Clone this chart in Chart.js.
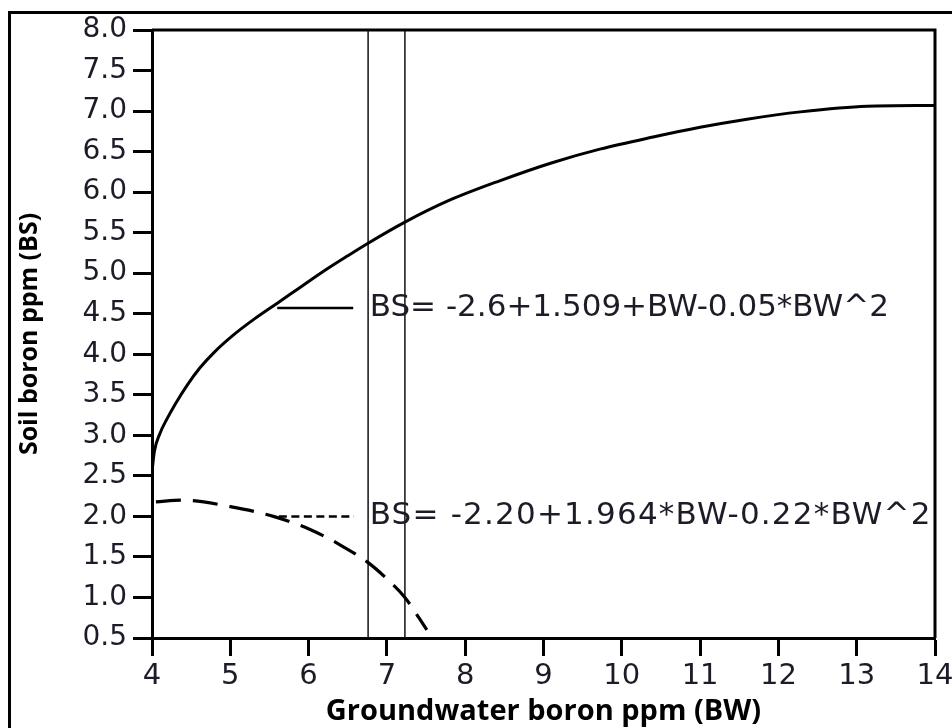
<!DOCTYPE html>
<html>
<head>
<meta charset="utf-8">
<script src="https://cdn.jsdelivr.net/npm/chart.js@4.4.1/dist/chart.umd.min.js"></script>
<style>
  html, body { margin: 0; padding: 0; background: #fff; overflow: hidden; }
  #frame {
    position: absolute; left: 8px; top: 11px; width: 1000px; height: 800px;
    border: 3px solid #000; box-sizing: border-box;
  }
  #wrap { position: absolute; left: 0; top: 0; width: 952px; height: 728px; }
</style>
</head>
<body>
<div id="frame"></div>
<div id="wrap"><canvas id="boronChart"></canvas></div>
<script>
// values
const solidX = [4.0, 4.03, 4.1, 4.19, 4.3, 4.45, 4.61, 4.8, 5.03, 5.3, 5.6, 5.9, 6.2, 6.5, 6.76, 7.23, 7.8, 8.44, 9.1, 9.72, 10.4, 11.0, 11.6, 12.28, 13.13, 14.0];
const solidY = [2.55, 2.8, 3.02, 3.2, 3.39, 3.62, 3.83, 4.03, 4.23, 4.43, 4.63, 4.83, 5.03, 5.215, 5.37, 5.63, 5.9, 6.14, 6.36, 6.53, 6.68, 6.80, 6.90, 6.99, 7.06, 7.07];

const dashedX = [4.05, 4.4, 5.0, 5.55, 6.04, 6.4, 6.76, 7.0, 7.23, 7.51];
const dashedY = [2.18, 2.2, 2.12, 2.0, 1.83, 1.65, 1.43, 1.23, 1.0, 0.6];

const markerX = [6.76, 7.23];

const solidKeyX = [5.6, 6.57];
const dashedKeyX = [5.62, 6.58];
const equations = ["BS= -2.6+1.509+BW-0.05*BW^2", "BS= -2.20+1.964*BW-0.22*BW^2"];
const equationY = [4.57, 2.0];
const equationX = 6.78;

const xTitle = "Groundwater boron ppm (BW)";
const yTitle = "Soil boron ppm (BS)";

function toPoints(xs, ys) {
  return xs.map((x, i) => ({ x: x, y: ys[i] }));
}

const textColor = "#1c1c28";

// top and right edges of the plot box + the equation texts
const boxAndText = {
  id: "boxAndText",
  afterDatasetsDraw(chart) {
    const ctx = chart.ctx;
    const a = chart.chartArea;
    const xs = chart.scales.x;
    const ys = chart.scales.y;
    ctx.save();
    ctx.strokeStyle = "#000";
    ctx.lineWidth = 3;
    ctx.beginPath();
    ctx.moveTo(a.left, a.top);
    ctx.lineTo(a.right, a.top);
    ctx.lineTo(a.right, a.bottom);
    ctx.stroke();

    ctx.fillStyle = textColor;
    ctx.font = "31px 'DejaVu Sans'";
    ctx.textAlign = "left";
    ctx.textBaseline = "middle";
    equations.forEach((t, i) => {
      // the second equation is set a little wider in the original
      ctx.letterSpacing = i === 1 ? "1.2px" : "0px";
      ctx.fillText(t, xs.getPixelForValue(equationX), ys.getPixelForValue(equationY[i]));
    });
    ctx.restore();
  },
};

const datasets = [
  {
    label: "solid",
    data: toPoints(solidX, solidY),
    borderColor: "#000",
    borderWidth: 3,
    cubicInterpolationMode: "monotone",
  },
  {
    label: "dashed",
    data: toPoints(dashedX, dashedY),
    borderColor: "#000",
    borderWidth: 3.2,
    borderDash: [25, 12],
    cubicInterpolationMode: "monotone",
  },
  {
    label: "solid key",
    data: toPoints(solidKeyX, [equationY[0], equationY[0]]),
    borderColor: "#000",
    borderWidth: 2.5,
  },
  {
    label: "dashed key",
    data: toPoints(dashedKeyX, [equationY[1], equationY[1]]),
    borderColor: "#000",
    borderWidth: 2.5,
    borderDash: [8, 4.5],
  },
];
markerX.forEach((x) => {
  datasets.push({
    label: "marker " + x,
    data: toPoints([x, x], [0.5, 8.0]),
    borderColor: "#111",
    borderWidth: 1.5,
  });
});

const config = {
  type: "scatter",
  data: { datasets: datasets },
  options: {
    responsive: true,
    maintainAspectRatio: false,
    animation: false,
    showLine: true,
    elements: { point: { radius: 0 } },
    layout: { padding: { left: 0, top: 30, right: 17, bottom: 0 } },
    plugins: {
      legend: { display: false },
      tooltip: { enabled: false },
    },
    scales: {
      x: {
        type: "linear",
        min: 4,
        max: 14,
        afterFit: (s) => {
          s.height = 90;
          s.paddingLeft = 0;
          s.paddingRight = 0;
        },
        border: { display: true, color: "#000", width: 3 },
        grid: {
          drawOnChartArea: false,
          drawTicks: true,
          tickLength: 18,
          tickColor: "#000",
          tickWidth: 3,
        },
        ticks: {
          stepSize: 1,
          padding: 3,
          color: textColor,
          font: { family: "DejaVu Sans", size: 29 },
          maxRotation: 0,
        },
        title: {
          display: true,
          text: xTitle,
          color: "#000",
          font: { family: "Open Sans", size: 29, weight: "bold" },
          padding: { top: 0, bottom: -1 },
        },
      },
      y: {
        type: "linear",
        min: 0.5,
        max: 8.0,
        afterFit: (s) => {
          s.width = 152;
        },
        border: { display: true, color: "#000", width: 3 },
        grid: {
          drawOnChartArea: false,
          drawTicks: true,
          tickLength: 19,
          tickColor: "#000",
          tickWidth: 3,
        },
        ticks: {
          stepSize: 0.5,
          padding: 6,
          color: textColor,
          font: { family: "DejaVu Sans", size: 28 },
          callback: (v) => v.toFixed(1),
        },
        title: {
          display: true,
          text: yTitle,
          color: "#000",
          font: { family: "Open Sans", size: 25, weight: "bold" },
          padding: { top: 15, bottom: 0 },
        },
      },
    },
  },
  plugins: [boxAndText],
};

new Chart(document.getElementById("boronChart"), config);
</script>
</body>
</html>
